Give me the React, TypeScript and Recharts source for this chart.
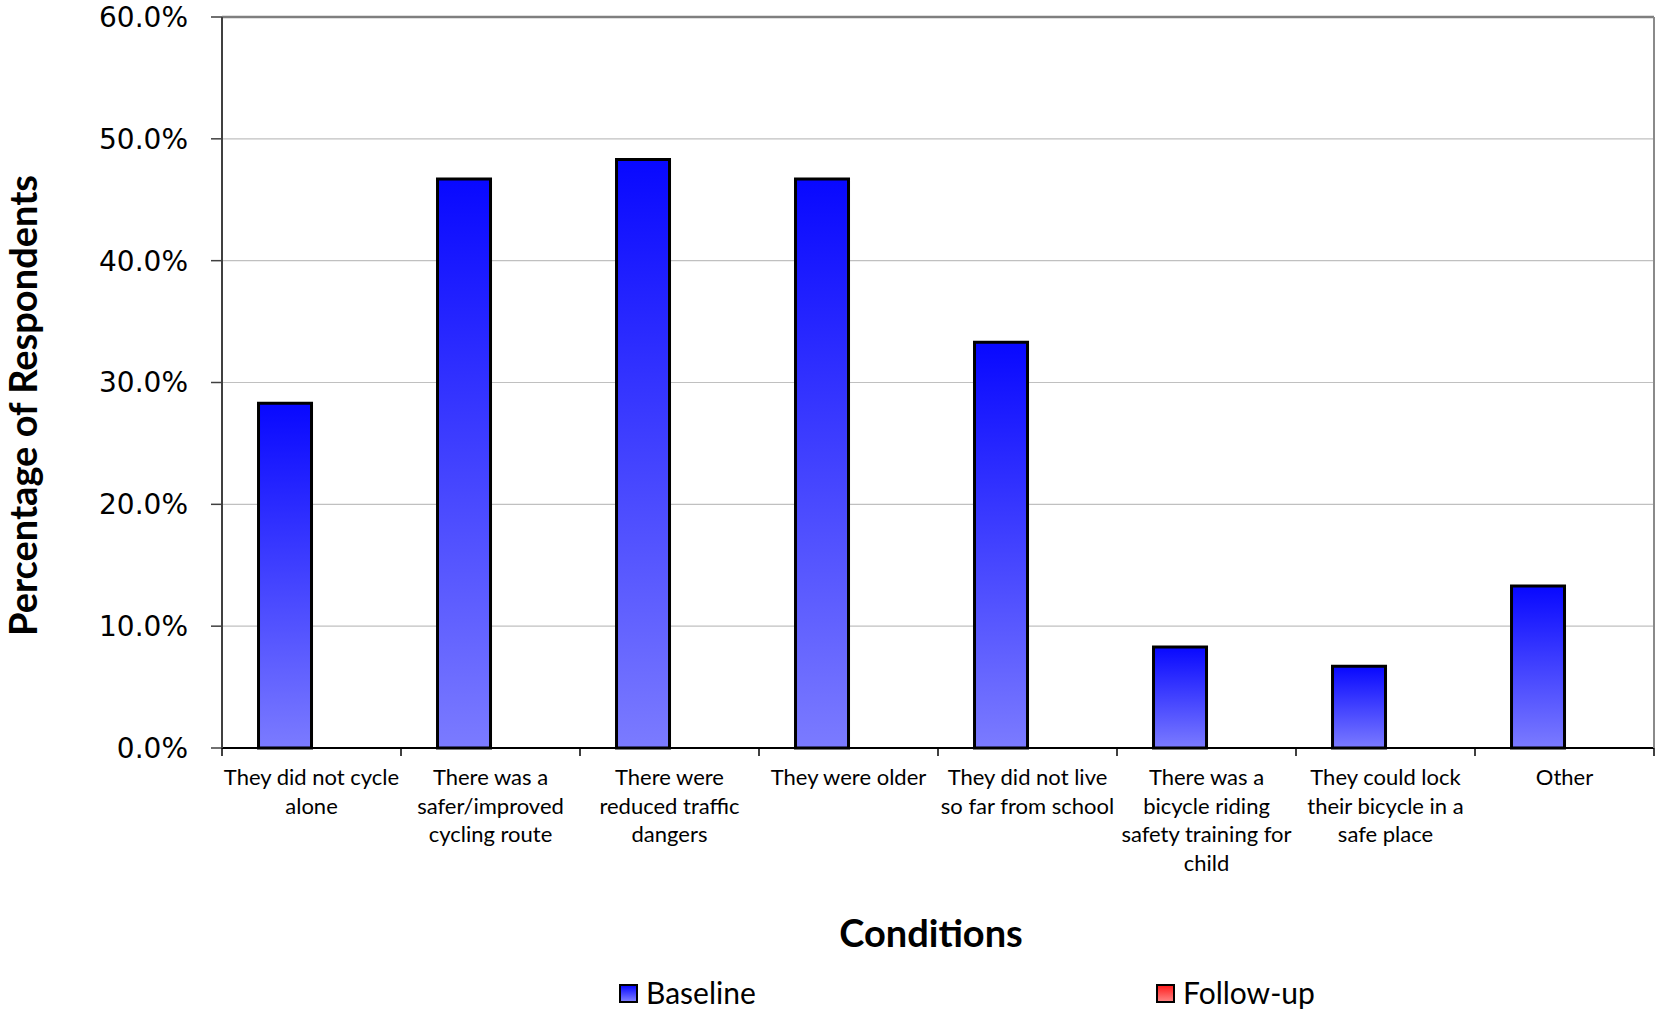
import React from 'react';
import { BarChart, Bar, XAxis, YAxis, CartesianGrid, Legend, ReferenceLine, Label } from 'recharts';

const categories = [
  'They did not cycle alone',
  'There was a safer/improved cycling route',
  'There were reduced traffic dangers',
  'They were older',
  'They did not live so far from school',
  'There was a bicycle riding safety training for child',
  'They could lock their bicycle in a safe place',
  'Other',
];

const categoryLines = [
  ['They did not cycle', 'alone'],
  ['There was a', 'safer/improved', 'cycling route'],
  ['There were', 'reduced traffic', 'dangers'],
  ['They were older'],
  ['They did not live', 'so far from school'],
  ['There was a', 'bicycle riding', 'safety training for', 'child'],
  ['They could lock', 'their bicycle in a', 'safe place'],
  ['Other'],
];

const baselineValues = [28.3, 46.7, 48.3, 46.7, 33.3, 8.3, 6.7, 13.3];
const followUpValues = [0, 0, 0, 0, 0, 0, 0, 0];
const yTicks = [0, 10, 20, 30, 40, 50, 60];
const seriesNames = ['Baseline', 'Follow-up'];
const xTitle = 'Conditions';
const yTitle = 'Percentage of Respondents';

const data = categories.map((c, i) => ({
  category: c,
  baseline: baselineValues[i],
  followUp: followUpValues[i],
}));

const LABEL_FONT = 'Lato, "Open Sans", sans-serif';

const XTick = (props: any) => {
  const { x, y, payload } = props;
  const idx = payload.index;
  const half = payload.offset || 0;
  const lines = categoryLines[idx] || [String(payload.value)];
  const last = idx === categories.length - 1;
  return (
    <g>
      <line x1={x - half} x2={x - half} y1={y} y2={y + 8} stroke="#000" strokeWidth={1.5} />
      {last && <line x1={x + half} x2={x + half} y1={y} y2={y + 8} stroke="#000" strokeWidth={1.5} />}
      <text x={x} y={y + 37} textAnchor="middle" fontFamily={LABEL_FONT} fontSize={22} fill="#000">
        {lines.map((l, i) => (
          <tspan key={i} x={x} dy={i === 0 ? 0 : 28.5}>
            {l}
          </tspan>
        ))}
      </text>
    </g>
  );
};

const renderYTitle = (props: any) => {
  const vb = props.viewBox || { x: 0, y: 0, width: 0, height: 0 };
  const cx = vb.x + 22;
  const cy = vb.y + vb.height / 2 + 23;
  return (
    <text
      x={cx}
      y={cy}
      transform={`rotate(-90 ${cx} ${cy})`}
      textAnchor="middle"
      dominantBaseline="central"
      fontFamily={LABEL_FONT}
      fontWeight={700}
      fontSize={38}
      fill="#000"
    >
      {yTitle}
    </text>
  );
};

const renderXTitle = (props: any) => {
  const vb = props.viewBox || { x: 0, y: 0, width: 0, height: 0 };
  return (
    <text
      x={vb.x + vb.width / 2 - 7}
      y={vb.y + 199}
      textAnchor="middle"
      fontFamily={LABEL_FONT}
      fontWeight={700}
      fontSize={38}
      fill="#000"
    >
      {xTitle}
    </text>
  );
};

const legendSwatches = [
  'linear-gradient(to bottom, #0a0aff, #7b7bff)',
  'linear-gradient(to bottom, #ff2020, #ff8080)',
];
const legendLefts = [619, 1156];

const renderLegend = () => (
  <div style={{ position: 'relative', width: '100%', height: 36 }}>
    {seriesNames.map((name, i) => (
      <div
        key={name}
        style={{ position: 'absolute', left: legendLefts[i], top: 0, height: 36, display: 'flex', alignItems: 'center' }}
      >
        <div
          style={{
            width: 15,
            height: 15,
            border: '2px solid #000',
            background: legendSwatches[i],
            marginRight: 8,
            marginTop: 2,
          }}
        />
        <span style={{ fontFamily: LABEL_FONT, fontSize: 30, lineHeight: '36px', color: '#000' }}>{name}</span>
      </div>
    ))}
  </div>
);

export default function App() {
  return (
    <div style={{ position: 'absolute', left: 0, top: 0, width: 1656, height: 1010, background: '#fff' }}>
      <BarChart
        width={1656}
        height={1010}
        data={data}
        margin={{ top: 17, right: 1, bottom: 0, left: 0 }}
        barCategoryGap="20.4%"
        barGap={0}
      >
        <defs>
          <linearGradient id="blueGrad" x1="0" y1="0" x2="0" y2="1">
            <stop offset="0%" stopColor="#0808ff" />
            <stop offset="100%" stopColor="#7b7bff" />
          </linearGradient>
          <linearGradient id="redGrad" x1="0" y1="0" x2="0" y2="1">
            <stop offset="0%" stopColor="#ff2020" />
            <stop offset="100%" stopColor="#ff8080" />
          </linearGradient>
        </defs>
        <CartesianGrid vertical={false} stroke="#c0c0c0" strokeWidth={1.2} />
        <XAxis
          dataKey="category"
          height={226}
          interval={0}
          tickLine={false}
          tickSize={0}
          tickMargin={0}
          tick={<XTick />}
          axisLine={{ stroke: '#000', strokeWidth: 2 }}
        >
          <Label content={renderXTitle} />
        </XAxis>
        <YAxis
          width={222}
          domain={[0, 60]}
          ticks={yTicks}
          interval={0}
          tickFormatter={(v: number) => `${v.toFixed(1)}%`}
          tickSize={11}
          tickMargin={23}
          tick={{ fontFamily: '"DejaVu Sans", Verdana, sans-serif', fontSize: 28, fill: '#000' }}
          tickLine={{ stroke: '#404040', strokeWidth: 1.5 }}
          axisLine={{ stroke: '#404040', strokeWidth: 2 }}
        >
          <Label content={renderYTitle} />
        </YAxis>
        <YAxis
          yAxisId="right"
          orientation="right"
          width={1}
          domain={[0, 60]}
          tick={false}
          tickLine={false}
          axisLine={{ stroke: '#8a8a8a', strokeWidth: 2 }}
        />
        <ReferenceLine y={60} stroke="#7f7f7f" strokeWidth={2.5} />
        <Legend verticalAlign="bottom" height={36} content={renderLegend} />
        <Bar
          dataKey="baseline"
          name={seriesNames[0]}
          fill="url(#blueGrad)"
          stroke="#000"
          strokeWidth={3}
          isAnimationActive={false}
        />
        <Bar
          dataKey="followUp"
          name={seriesNames[1]}
          fill="url(#redGrad)"
          stroke="#000"
          strokeWidth={3}
          isAnimationActive={false}
        />
      </BarChart>
    </div>
  );
}
